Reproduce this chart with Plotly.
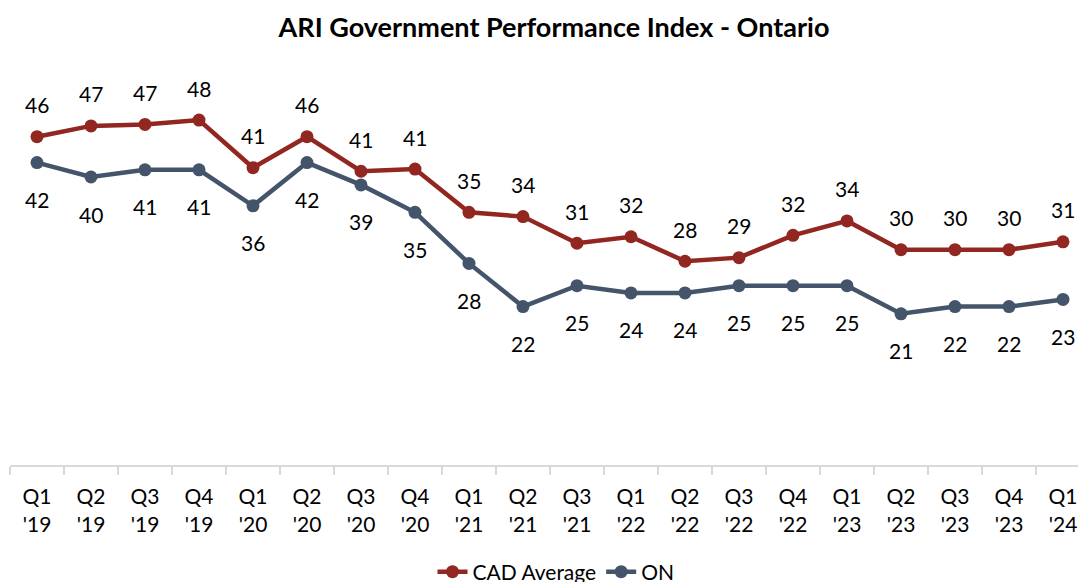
import plotly.graph_objects as go

quarters = ["Q1<br>'19", "Q2<br>'19", "Q3<br>'19", "Q4<br>'19",
            "Q1<br>'20", "Q2<br>'20", "Q3<br>'20", "Q4<br>'20",
            "Q1<br>'21", "Q2<br>'21", "Q3<br>'21",
            "Q1<br>'22", "Q2<br>'22", "Q3<br>'22", "Q4<br>'22",
            "Q1<br>'23", "Q2<br>'23", "Q3<br>'23", "Q4<br>'23", "Q1<br>'24"]

cad_values = [45.6, 47.1, 47.3, 47.9, 41.3, 45.6, 40.8, 41.1, 35.1, 34.5,
              30.8, 31.7, 28.3, 28.8, 31.9, 33.9, 29.9, 29.9, 29.9, 31.0]
on_values = [42.0, 40.0, 41.0, 41.0, 36.0, 42.0, 38.9, 35.1, 28.0, 22.0,
             24.9, 23.9, 23.9, 24.9, 24.9, 24.9, 21.0, 22.0, 22.0, 23.0]

cad_color = "#912720"
on_color = "#44546A"
font_family = "Lato, 'Open Sans', sans-serif"

W, H = 1078, 582

fig = go.Figure()
fig.add_trace(go.Scatter(x=quarters, y=cad_values, name="CAD Average", mode="lines+markers",
                         line=dict(color=cad_color, width=4.5),
                         marker=dict(color=cad_color, size=13)))
fig.add_trace(go.Scatter(x=quarters, y=on_values, name="ON", mode="lines+markers",
                         line=dict(color=on_color, width=4.5),
                         marker=dict(color=on_color, size=13)))

annotations = []
for q, v in zip(quarters, cad_values):
    annotations.append(dict(x=q, y=v, text=f"{round(v):d}", showarrow=False,
                            yshift=32, font=dict(size=21, color="#000000", family=font_family)))
for q, v in zip(quarters, on_values):
    annotations.append(dict(x=q, y=v, text=f"{round(v):d}", showarrow=False,
                            yshift=-37, font=dict(size=21, color="#000000", family=font_family)))

fig.update_layout(
    width=W, height=H,
    paper_bgcolor="white", plot_bgcolor="white",
    margin=dict(l=10, r=0, t=33, b=117, autoexpand=False),
    title=dict(text="<b>ARI Government Performance Index - Ontario</b>",
               x=554 / W, xref="container", xanchor="center",
               y=1 - 28 / H, yref="container", yanchor="middle",
               font=dict(size=27, color="#000000", family=font_family)),
    showlegend=True,
    legend=dict(orientation="h", xref="container", x=556 / W, xanchor="center",
                yref="container", y=1 - 572 / H, yanchor="middle",
                font=dict(size=21, color="#000000", family=font_family)),
    annotations=annotations,
    font=dict(family=font_family, color="#000000"),
)
fig.update_xaxes(type="category", range=[-0.5, 19.278], showline=True, linecolor="#D9D9D9",
                 linewidth=2, ticks="outside", tickson="boundaries", ticklen=8,
                 tickcolor="#D9D9D9", tickwidth=2, showgrid=False, zeroline=False,
                 automargin=False,
                 tickfont=dict(size=21, color="#000000", family=font_family),
                 ticklabelstandoff=12)
fig.update_yaxes(range=[0, 60], visible=False, showgrid=False, zeroline=False, automargin=False)

fig.write_html(
    "out.html",
    config={"displayModeBar": False},
    post_script="document.documentElement.style.overflow='hidden';"
                "document.body.style.margin='0';document.body.style.overflow='hidden';",
)
